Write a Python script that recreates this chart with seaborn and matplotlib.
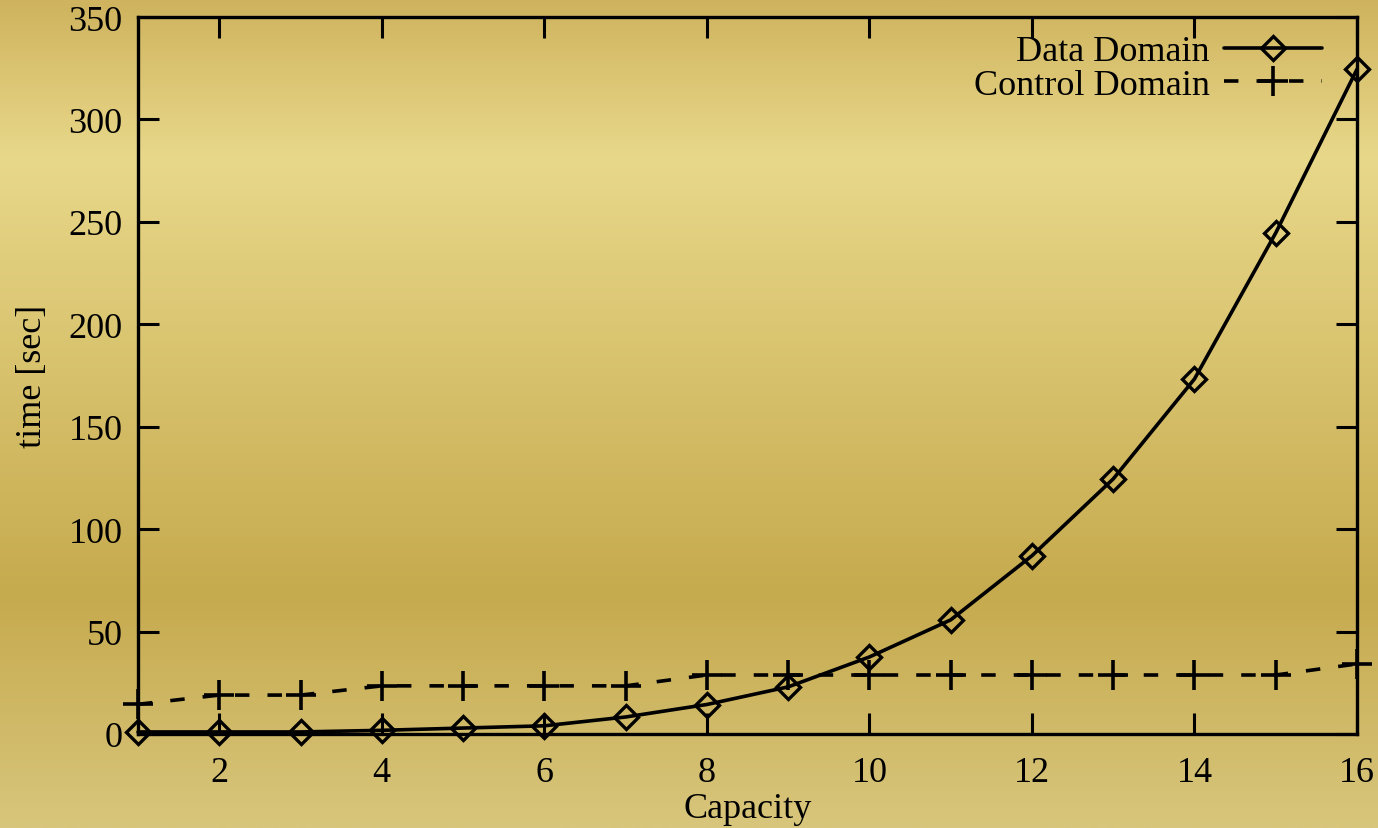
import numpy as np
import pandas as pd
import matplotlib
matplotlib.use("Agg")
import matplotlib.pyplot as plt
from matplotlib.colors import LinearSegmentedColormap
import seaborn as sns

capacity = list(range(1, 17))
data_domain = [1.0, 1.0, 1.0, 1.8, 2.9, 4.0, 8.3, 14.4, 23.0, 37.6, 55.7, 87.0, 124.5, 173.3, 244.6, 324.5]
control_domain = [14.5, 19.0, 19.0, 23.5, 23.5, 23.5, 23.5, 28.8, 28.8, 28.8, 28.8, 28.8, 28.8, 28.8, 28.8, 34.2]
x_ticks = [2, 4, 6, 8, 10, 12, 14, 16]
y_ticks = [0, 50, 100, 150, 200, 250, 300, 350]

df = pd.DataFrame({"Capacity": capacity, "Data Domain": data_domain, "Control Domain": control_domain})

sns.set_theme(style="white")
plt.rcParams['font.family'] = ['Liberation Serif', 'DejaVu Serif']
plt.rcParams['text.color'] = 'black'
plt.rcParams['axes.labelcolor'] = 'black'

FS = 26

fig = plt.figure(figsize=(13.78, 8.29), dpi=100)

# gradient background
bg = fig.add_axes([0, 0, 1, 1], zorder=-10)
cmap = LinearSegmentedColormap.from_list("bg", [(0.0, "#cfb35e"), (0.19, "#e8d88a"), (0.72, "#c6aa4e"), (1.0, "#d8c67c")])
grad = np.linspace(0, 1, 512).reshape(-1, 1)
bg.imshow(grad, aspect="auto", cmap=cmap, extent=[0, 1, 0, 1], origin="upper")
bg.set_axis_off()

ax = fig.add_axes([138/1378, 1 - 735/829, (1357-138)/1378, (735-18)/829])
ax.patch.set_alpha(0)

sns.lineplot(data=df, x="Capacity", y="Data Domain", ax=ax, color="black", linewidth=2.6,
             marker="D", markersize=12, markerfacecolor="none", markeredgecolor="black",
             markeredgewidth=2.4, label="Data Domain", clip_on=False)
sns.lineplot(data=df, x="Capacity", y="Control Domain", ax=ax, color="black", linewidth=2.6,
             marker="+", markersize=21, markeredgewidth=2.6, markeredgecolor="black",
             label="Control Domain", dashes=False, linestyle=(0, (4, 5)), clip_on=False)

ax.set_xlim(1, 16)
ax.set_ylim(0, 350)
ax.set_xticks(x_ticks)
ax.set_yticks(y_ticks)
ax.tick_params(axis="both", direction="in", length=15, width=2.2, top=True, right=True,
               bottom=True, left=True, labelsize=FS, colors="black")
ax.tick_params(axis="x", pad=16)
ax.tick_params(axis="y", pad=11)
for s in ax.spines.values():
    s.set_linewidth(2.4)
    s.set_color("black")
ax.set_xlabel("Capacity", fontsize=FS, labelpad=2, color="black")
ax.set_ylabel("time [sec]", fontsize=FS, labelpad=14, color="black")

leg = ax.legend(loc="upper right", frameon=False, markerfirst=False, fontsize=FS,
                handlelength=2.7, borderaxespad=0.2, labelspacing=0.0, handletextpad=0.4,
                bbox_to_anchor=(0.989, 1.005))
for t in leg.get_texts():
    t.set_color("black")

fig.savefig("out.png", dpi=100)
